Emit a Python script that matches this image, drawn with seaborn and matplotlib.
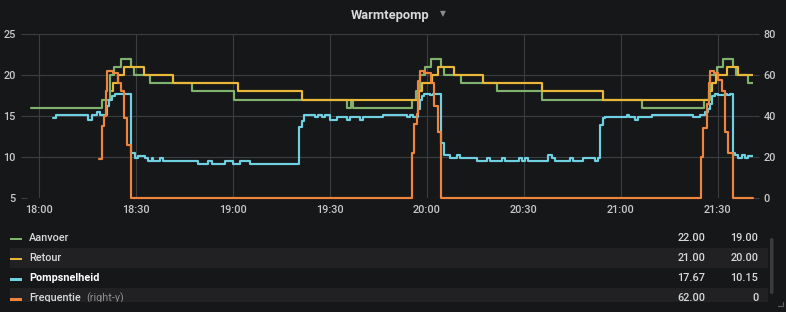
import matplotlib
matplotlib.use("Agg")
import matplotlib.pyplot as plt
import matplotlib.dates as mdates
from matplotlib.patches import Rectangle, FancyBboxPatch
import pandas as pd
import seaborn as sns

# ---------------- data (minutes after 18:00, value) ----------------
BASE = pd.Timestamp("2020-01-01 18:00")

aanvoer_t = [-2.38, 19.48, 22.05, 23.38, 25.45, 28.55, 29.57, 34.42, 47.32, 60.50,
             95.44, 96.50, 97.30, 115.36, 116.69, 117.93, 119.48, 121.33, 124.42,
             125.44, 130.61, 141.65, 155.75, 186.50, 205.76, 207.62, 209.69, 211.73,
             214.83, 215.66, 219.47, 220.83]
aanvoer_v = [16, 17, 20, 21, 22, 21, 20, 19, 18, 17,
             16, 17, 16, 17, 18, 20, 21, 22, 21,
             20, 19, 18, 17, 16, 17, 20, 21, 22,
             21, 20, 19, 19]

retour_t = [22.76, 23.07, 24.53, 26.38, 32.41, 41.44, 61.49, 81.53, 117.71, 118.45,
            121.55, 123.59, 128.45, 137.51, 155.57, 174.62, 207.31, 208.24, 209.48,
            212.79, 216.37, 220.83]
retour_v = [18, 19, 20, 21, 20, 19, 18, 17, 18, 19,
            20, 21, 20, 19, 18, 17, 18, 19, 20,
            21, 20, 20]

pomp_t = [4.52, 5.26, 15.09, 16.39, 17.94, 18.96, 21.03, 21.84, 22.58, 23.60,
          28.55, 29.78, 30.80, 32.88, 33.90, 34.95, 35.44, 37.52, 38.54, 49.36,
          52.45, 53.51, 57.62, 60.19, 62.26, 65.35, 80.60, 81.34, 82.05, 85.45,
          86.48, 87.53, 88.55, 90.09, 92.17, 95.26, 96.28, 99.37, 100.39, 106.58,
          113.82, 114.84, 115.77, 117.40, 117.78, 118.45, 119.26, 121.02, 122.04, 124.42,
          125.44, 127.21, 129.28, 130.30, 135.46, 138.56, 139.58, 143.20, 144.22, 148.64,
          149.38, 150.41, 151.42, 157.61, 158.66, 159.68, 164.32, 165.34, 168.43, 172.05,
          173.07, 173.60, 174.44, 175.15, 181.86, 182.66, 184.43, 185.45, 189.59, 202.45,
          204.53, 206.07, 207.10, 207.62, 208.15, 209.17, 210.19, 212.26, 212.88, 213.81,
          214.64, 215.36, 216.37, 217.42, 218.45, 219.47, 220.83]
pomp_v = [14.8, 15.1, 14.5, 15.1, 15.45, 15.1, 16.2, 17.0, 17.4, 17.67,
          10.45, 9.85, 10.1, 9.85, 9.5, 9.85, 9.5, 9.85, 9.5, 9.1,
          9.5, 9.1, 9.5, 9.1, 9.5, 9.1, 13.7, 14.4, 15.1, 14.85,
          15.1, 14.85, 15.1, 14.5, 14.85, 14.5, 14.85, 14.5, 14.85, 15.1,
          14.85, 15.1, 14.85, 15.8, 17.0, 17.4, 17.67, 17.5, 17.67, 11.7,
          10.25, 9.85, 10.2, 9.85, 9.5, 9.85, 9.5, 9.85, 9.5, 9.85,
          9.5, 9.85, 9.5, 10.2, 9.85, 9.5, 9.85, 9.5, 9.85, 9.5,
          9.85, 13.9, 14.7, 14.85, 15.15, 14.85, 14.5, 14.85, 15.1, 14.85,
          15.1, 15.5, 15.8, 16.5, 17.4, 17.67, 17.5, 17.67, 17.5, 17.67,
          10.45, 10.25, 9.85, 10.2, 9.85, 10.15, 10.15]

freq_t = [18.65, 19.48, 20.29, 20.81, 21.12, 22.89, 24.53, 25.45, 26.38, 27.22,
          28.45, 115.55, 116.17, 116.91, 117.40, 117.93, 119.26, 121.33, 122.35, 123.40,
          124.42, 204.68, 205.55, 206.60, 207.16, 207.62, 208.86, 210.19, 211.33, 212.26,
          213.28, 214.64, 220.83]
freq_v = [19, 35, 40, 52, 62, 61, 56, 52, 39, 26,
          0, 22, 36, 41, 57, 62, 61, 56, 45, 32,
          0, 20, 34, 46, 56, 62, 61, 57.6, 52, 32,
          22, 0, 0]

series_names = ["Aanvoer", "Retour", "Pompsnelheid", "Frequentie"]
series_colors = ["#7eb26d", "#eab839", "#6ed0e0", "#ef843c"]

left_ticks = [5, 10, 15, 20, 25]
right_ticks = [0, 20, 40, 60, 80]
title = "Warmtepomp"

# ---------------- styling ----------------
BG = "#161719"
ROW_BG = "#212124"
GRID = "#3c3d40"
TXT = "#c7c8ca"

sns.set_theme(style="dark")
plt.rcParams["font.family"] = ["Roboto", "DejaVu Sans"]

W, H = 786, 312
fig = plt.figure(figsize=(W / 100, H / 100), dpi=100, facecolor=BG)


def frame(name, t, v):
    return pd.DataFrame({"time": BASE + pd.to_timedelta(t, unit="m"),
                         "value": v, "series": name})


df_left = pd.concat([frame("Aanvoer", aanvoer_t, aanvoer_v),
                     frame("Retour", retour_t, retour_v),
                     frame("Pompsnelheid", pomp_t, pomp_v)], ignore_index=True)
df_right = frame("Frequentie", freq_t, freq_v)
palette = dict(zip(series_names, series_colors))

x0, x1, y0, y1 = 27, 753, 34, 198
ax = fig.add_axes([x0 / W, 1 - y1 / H, (x1 - x0) / W, (y1 - y0) / H])
ax.set_facecolor(BG)
ax2 = ax.twinx()

sns.lineplot(data=df_left, x="time", y="value", hue="series",
             hue_order=series_names[:3], palette=palette, estimator=None,
             drawstyle="steps-post", linewidth=1.55, legend=False, ax=ax)
sns.lineplot(data=df_right, x="time", y="value", hue="series",
             palette=palette, estimator=None, drawstyle="steps-post",
             linewidth=1.55, legend=False, ax=ax2, clip_on=False)

ax.set_xlim(BASE + pd.Timedelta(minutes=-3.62), BASE + pd.Timedelta(minutes=220.9))
ax.set_ylim(5, 25)
ax2.set_ylim(0, 80)
ax.set_yticks(left_ticks)
ax2.set_yticks(right_ticks)
ax.xaxis.set_major_locator(mdates.MinuteLocator(byminute=[0, 30]))
ax.xaxis.set_major_formatter(mdates.DateFormatter("%H:%M"))
ax.set_xlabel("")
ax.set_ylabel("")
ax2.set_xlabel("")
ax2.set_ylabel("")

ax.grid(True, color=GRID, linewidth=0.8)
ax2.grid(False)
for a in (ax, ax2):
    for s in a.spines.values():
        s.set_visible(False)

ax.tick_params(axis="y", left=True, length=4, width=0.8, color=GRID, pad=4,
               labelsize=7.8, labelcolor=TXT)
ax.tick_params(axis="x", bottom=True, length=0, pad=5, labelsize=7.8, labelcolor=TXT)
ax2.tick_params(axis="y", right=True, length=4, width=0.8, color=GRID, pad=3.5,
                labelsize=7.8, labelcolor=TXT)
for lab in ax.get_xticklabels() + ax.get_yticklabels() + ax2.get_yticklabels():
    lab.set_fontweight("medium")

# ---------------- overlay: title & legend ----------------
ov = fig.add_axes([0, 0, 1, 1], zorder=5)
ov.set_xlim(0, W)
ov.set_ylim(H, 0)
ov.axis("off")
ov.patch.set_alpha(0)

ov.text(390, 18.5, title, ha="center", va="baseline", fontsize=9.3, fontweight="bold",
        color="#d8d9da")
ov.text(443, 16.5, "▼", ha="center", va="baseline", fontsize=5.5, color="#8e8e8e",
        family=["DejaVu Sans"])

row_y = [237, 257.2, 277.4, 297.6]
label_colors = ["#d8d9da", "#d8d9da", "#ffffff", "#d8d9da"]
label_weights = ["medium", "medium", "semibold", "medium"]


def fmt(v):
    return "0" if v == 0 else f"{v:.2f}"


all_v = [aanvoer_v, retour_v, pomp_v, freq_v]
for i, (name, col, yv, vals) in enumerate(zip(series_names, series_colors, row_y, all_v)):
    if i % 2 == 1:
        ov.add_patch(Rectangle((10, yv - 9.6), 758, 20, facecolor=ROW_BG, edgecolor="none",
                               zorder=1))
    ov.add_patch(Rectangle((10, yv + 0.5), 12.3, 2.6, facecolor=col, edgecolor="none",
                           zorder=2))
    ov.text(29, yv + 3.6, name, ha="left", va="baseline", fontsize=7.8,
            fontweight=label_weights[i], color=label_colors[i], zorder=3)
    ov.text(705, yv + 3.6, fmt(max(vals)), ha="right", va="baseline", fontsize=7.8,
            fontweight="medium", color="#d8d9da", zorder=3)
    ov.text(758.3, yv + 3.6, fmt(vals[-1]), ha="right", va="baseline", fontsize=7.8,
            fontweight="medium", color="#d8d9da", zorder=3)

ov.text(86, row_y[3] + 3.6, "(right-y)", ha="left", va="baseline", fontsize=7.8,
        color="#8e8e8e", zorder=3)

# clip of the scrolled legend
ov.add_patch(Rectangle((0, 301.7), W, H - 301.7, facecolor=BG, edgecolor="none", zorder=4))

# scrollbar
ov.add_patch(FancyBboxPatch((770, 238), 3.5, 56, boxstyle="round,pad=0,rounding_size=1.7",
                            facecolor="#3a3b3f", edgecolor="none", zorder=5))
ov.plot([783, 783, 778], [301.5, 305.5, 305.5], color="#5a5b5e", linewidth=0.9, zorder=6)

fig.savefig("out.png", dpi=100, facecolor=BG)
